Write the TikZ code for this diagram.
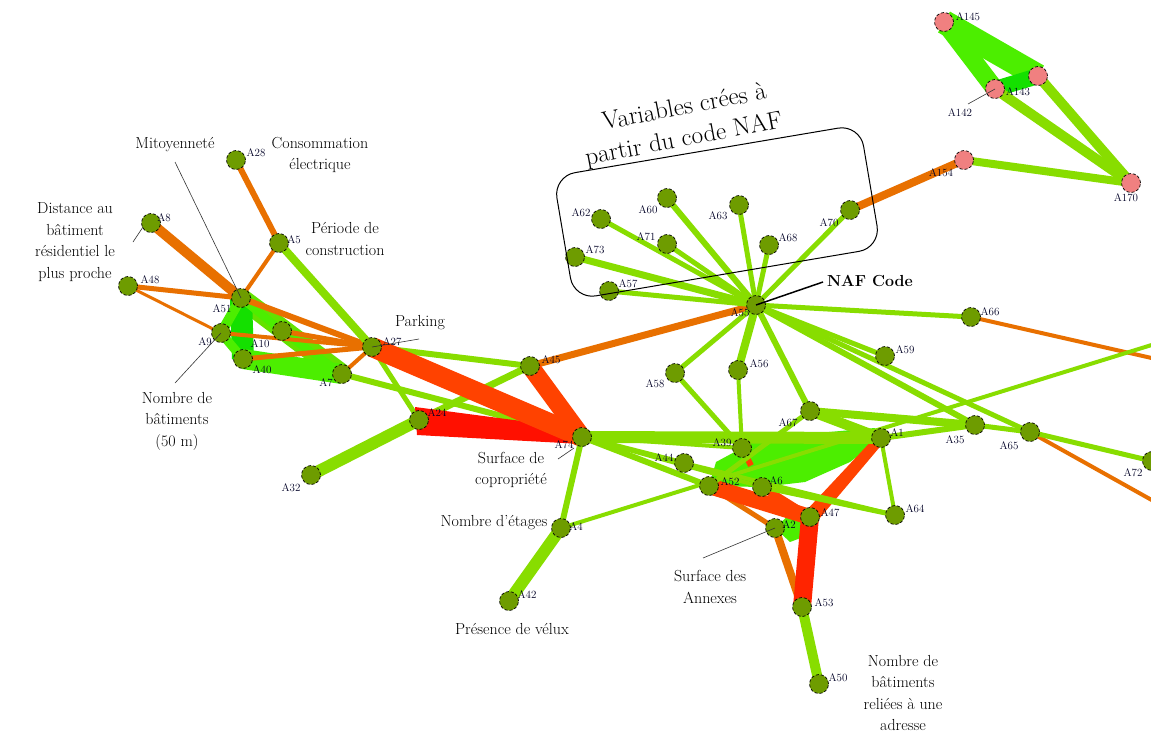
\documentclass[tikz,border=0pt]{standalone}
\usetikzlibrary{backgrounds,calc}
\definecolor{og}{RGB}{232,112,0}
\definecolor{orr}{RGB}{255,66,0}
\definecolor{rd}{RGB}{255,16,0}
\definecolor{lg}{RGB}{136,221,0}
\definecolor{bg}{RGB}{76,238,0}
\definecolor{dg}{RGB}{20,224,0}
\definecolor{mg}{RGB}{100,226,0}
\definecolor{ngreen}{RGB}{110,156,0}
\definecolor{npink}{RGB}{240,128,128}
\tikzset{
  nd/.style={circle, draw=black, densely dashed, line width=0.7pt, fill=ngreen, minimum size=19pt, inner sep=0pt},
  pk/.style={nd, fill=npink},
  lab/.style={font=\fontsize{11}{11}\selectfont, inner sep=0pt, text=black!85!blue},
  ann/.style={font=\fontsize{16}{21.5}\selectfont, align=center, inner sep=0pt},
  ttl/.style={font=\fontsize{25}{30}\selectfont, inner sep=0pt, rotate=10.8},
  ptr/.style={draw=black!80, line width=0.6pt},
  eg/.style={draw=lg, line width=#1},
  eo/.style={draw=og, line width=#1},
  er/.style={draw=orr, line width=#1},
  eb/.style={draw=bg, line width=#1}
}
\begin{document}
\begin{tikzpicture}[x=1pt,y=-1pt]
\useasboundingbox (0,0) rectangle (1151,734);
\clip (0,0) rectangle (1151,734);

% ---------------- nodes ----------------
\node[nd] (A28) at (236,160) {};
\node[nd] (A8) at (151,223) {};
\node[nd] (A48) at (128,286) {};
\node[nd] (A5) at (279,243) {};
\node[nd] (A51) at (241,298) {};
\node[nd] (A9) at (221,333) {};
\node[nd] (A10) at (282,331) {};
\node[nd] (A40) at (243,359) {};
\node[nd] (A7) at (342,374) {};
\node[nd] (A27) at (372,347) {};
\node[nd] (A24) at (419,420) {};
\node[nd] (A32) at (311,475) {};
\node[nd] (A45) at (530,366) {};
\node[nd] (A74) at (582,437) {};
\node[nd] (A4) at (561,528) {};
\node[nd] (A42) at (509,601) {};
\node[nd] (A55) at (756,305) {};
\node[nd] (A62) at (601,219) {};
\node[nd] (A60) at (667,198) {};
\node[nd] (A71) at (667,244) {};
\node[nd] (A63) at (739,205) {};
\node[nd] (A68) at (769,245) {};
\node[nd] (A70) at (850,210) {};
\node[nd] (A73) at (575,257) {};
\node[nd] (A57) at (609,291) {};
\node[nd] (A66) at (971,317) {};
\node[nd] (A59) at (885,356) {};
\node[nd] (A58) at (675,373) {};
\node[nd] (A56) at (738,370) {};
\node[nd] (A67) at (810,411) {};
\node[nd] (A1) at (881,438) {};
\node[nd] (A35) at (975,425) {};
\node[nd] (A65) at (1030,432) {};
\node[nd] (A72) at (1152,461) {};
\node[nd] (A39) at (742,448) {};
\node[nd] (A44) at (684,463) {};
\node[nd] (A52) at (709,486) {};
\node[nd] (A6) at (762,487) {};
\node[nd] (A47) at (810,517) {};
\node[nd] (A2) at (775,528) {};
\node[nd] (A64) at (895,515) {};
\node[nd] (A53) at (802,607) {};
\node[nd] (A50) at (819,684) {};
\node[pk] (A145) at (944,22) {};
\node[pk] (P143) at (1038,76) {};
\node[pk] (A142) at (995,89) {};
\node[pk] (A154) at (964,160) {};
\node[pk] (A170) at (1131,183) {};

\coordinate (offA) at (1200,369);
\coordinate (offB) at (1200,527);
\coordinate (offC) at (1200,330);

% ---------------- edges ----------------
\begin{scope}[on background layer]
\fill[white] (0,0) rectangle (1151,734);
% bright green areas
\fill[bg] (A52.center) -- (716,462) -- (A39.center) -- (760,438) -- (875,428) -- (A1.center) -- (850,462) -- (805,482) -- (A6.center) -- cycle;
\fill[bg] (A2.center) -- (792,512) -- (A47.center) -- (806,536) -- (790,542) -- cycle;
\draw[eb=20, draw=mg] (A51.center) -- (A7.center);
\draw[eb=22, draw=dg] (A51.center) -- (A40.center);
\draw[eb=10] (A9.center) -- (A51.center);
\draw[eb=9] (A9.center) -- (A40.center);
\draw[eb=20] (A40.center) -- (A7.center);
\draw[eb=8] (A10.center) -- (A7.center);
\draw[eb=8] (A51.center) -- (A10.center);
\draw[eb=24] (A145.center) -- (P143.center);
\draw[eb=18] (A145.center) -- (A142.center);
\draw[eb=16, draw=dg] (A142.center) -- (P143.center);

% orange
\draw[eo=6] (A28.center) -- (A5.center);
\draw[eo=4] (A5.center) -- (A51.center);
\draw[eo=10] (A8.center) -- (A51.center);
\draw[eo=5] (A48.center) -- (A51.center);
\draw[eo=3] (A48.center) -- (A9.center);
\draw[eo=6] (A51.center) -- (A27.center);
\draw[eo=5] (A10.center) -- (A27.center);
\draw[eo=4] (A9.center) -- (A27.center);
\draw[eo=5] (A40.center) -- (A27.center);
\draw[eo=4] (A7.center) -- (A27.center);
\draw[eo=7] (A45.center) -- (A55.center);
\draw[eo=8] (A70.center) -- (A154.center);
\draw[eo=4] (A66.center) -- (offA);
\draw[eo=4] (A65.center) -- (offB);
\draw[eo=5] (A52.center) -- (A2.center);
\draw[eo=8] (A2.center) -- (A53.center);

% light green (under red)
\draw[eg=8] (A5.center) -- (A27.center);
\draw[eg=5] (A27.center) -- (A24.center);
\draw[eg=6] (A27.center) -- (A45.center);
\draw[eg=6] (A7.center) -- (A74.center);
\draw[eg=7] (A24.center) -- (A45.center);
\draw[eg=12] (A32.center) -- (A24.center);

% red / orange-red
\fill[rd] ($(A24.center)+(-4,-13)$) -- ($(A24.center)+(-2,15)$) -- ($(A74.center)+(0,7)$) -- ($(A74.center)+(0,-8)$) -- cycle;
\draw[er=20] (A27.center) -- (A74.center);
\draw[er=18] (A45.center) -- (A74.center);
\draw[er=16] (A52.center) -- (A47.center);
\draw[er=8] (A6.center) -- (A47.center);
\fill[orr] ($(A1.center)+(-4,-3)$) -- ($(A1.center)+(3,4)$) -- ($(A47.center)+(9,2)$) -- ($(A47.center)+(-8,-2)$) -- cycle;
\draw[er=18, draw=rd!60!orr] (A47.center) -- (A53.center);
\draw[er=6] (A39.center) -- ($(A39.center)!0.45!(A6.center)$);

% light green
\draw[eg=12] (A74.center) -- (A1.center);
\draw[eg=6] (A74.center) -- (A52.center);
\draw[eg=5] (A74.center) -- (A44.center);
\draw[eg=4] (A74.center) -- (A39.center);
\draw[eg=4] (A44.center) -- (A64.center);
\draw[eg=4] (A74.center) -- (A6.center);
\draw[eg=5] (A6.center) -- (A64.center);
\draw[eg=6] (A74.center) -- (A4.center);
\draw[eg=12] (A4.center) -- (A42.center);
\draw[eg=4] (A4.center) -- (offC);
\draw[eg=4] (A1.center) -- (A64.center);
\draw[eg=10] (A67.center) -- (A1.center);
\draw[eg=8] (A67.center) -- (A35.center);
\draw[eg=6] (A1.center) -- (A35.center);
\draw[eg=5] (A67.center) -- (A52.center);
\draw[eg=5] (A55.center) -- (A62.center);
\draw[eg=6] (A55.center) -- (A60.center);
\draw[eg=5] (A55.center) -- (A71.center);
\draw[eg=5] (A55.center) -- (A63.center);
\draw[eg=5] (A55.center) -- (A68.center);
\draw[eg=5] (A55.center) -- (A70.center);
\draw[eg=7] (A55.center) -- (A73.center);
\draw[eg=5] (A55.center) -- (A57.center);
\draw[eg=5] (A55.center) -- (A58.center);
\draw[eg=8] (A55.center) -- (A56.center);
\draw[eg=6] (A55.center) -- (A67.center);
\draw[eg=5] (A55.center) -- (A59.center);
\draw[eg=5] (A55.center) -- (A66.center);
\draw[eg=6] (A55.center) -- (A35.center);
\draw[eg=5] (A55.center) -- (A65.center);
\draw[eg=5] (A58.center) -- (A39.center);
\draw[eg=4] (A56.center) -- (A39.center);
\draw[eg=5] (A35.center) -- (A65.center);
\draw[eg=5] (A65.center) -- (A72.center);
\draw[eg=10] (A53.center) -- (A50.center);
\draw[eg=8] (A154.center) -- (A170.center);
\draw[eg=10] (P143.center) -- (A170.center);
\draw[eg=10] (A142.center) -- (A170.center);
\end{scope}

% ---------------- node labels ----------------
\node[lab] at (256,153) {A28};
\node[lab] at (164,218) {A8};
\node[lab] at (150,280) {A48};
\node[lab] at (294,240) {A5};
\node[lab] at (222,309) {A51};
\node[lab] at (205,342) {A9};
\node[lab] at (260,344) {A10};
\node[lab] at (262,370) {A40};
\node[lab] at (326,383) {A7};
\node[lab] at (392,342) {A27};
\node[lab] at (437,413) {A24};
\node[lab] at (291,488) {A32};
\node[lab] at (551,360) {A45};
\node[lab] at (564,445) {A74};
\node[lab] at (576,527) {A4};
\node[lab] at (527,595) {A42};
\node[lab] at (740,313) {A55};
\node[lab] at (581,213) {A62};
\node[lab] at (648,210) {A60};
\node[lab] at (646,237) {A71};
\node[lab] at (718,216) {A63};
\node[lab] at (788,238) {A68};
\node[lab] at (829,223) {A70};
\node[lab] at (595,250) {A73};
\node[lab] at (628,284) {A57};
\node[lab] at (990,312) {A66};
\node[lab] at (905,350) {A59};
\node[lab] at (655,384) {A58};
\node[lab] at (759,364) {A56};
\node[lab] at (788,423) {A67};
\node[lab] at (897,433) {A1};
\node[lab] at (955,440) {A35};
\node[lab] at (1009,446) {A65};
\node[lab] at (1133,473) {A72};
\node[lab] at (722,443) {A39};
\node[lab] at (664,458) {A44};
\node[lab] at (730,482) {A52};
\node[lab] at (776,481) {A6};
\node[lab] at (830,513) {A47};
\node[lab] at (789,525) {A2};
\node[lab] at (915,509) {A64};
\node[lab] at (824,603) {A53};
\node[lab] at (838,678) {A50};
\node[lab] at (968,17) {A145};
\node[lab] at (1018,92) {A143};
\node[lab] at (960,113) {A142};
\node[lab] at (941,173) {A154};
\node[lab] at (1126,198) {A170};

% ---------------- annotations ----------------
\node[ann] (tMit) at (175,145) {Mitoyennet\'e};
\node[ann] (tCons) at (320,155) {Consommation\\\'electrique};
\node[ann] (tDist) at (75,242) {Distance au\\b\^atiment\\r\'esidentiel le\\plus proche};
\node[ann] (tPer) at (345,239) {P\'eriode de\\construction};
\node[ann] (tPark) at (420,323) {Parking};
\node[ann] (tNb) at (177,421) {Nombre de\\b\^atiments\\(50 m)};
\node[ann] (tCop) at (511,470) {Surface de\\copropri\'et\'e};
\node[ann] (tEt) at (494,523) {Nombre d’\'etages};
\node[ann] (tVel) at (512,629) {Pr\'esence de v\'elux};
\node[ann] (tAnn) at (710,587) {Surface des\\Annexes};
\node[ann, font=\fontsize{16}{21.5}\selectfont\bfseries] (tNaf) at (870,281) {NAF Code};
\node[ann] (tAdr) at (903,693) {Nombre de\\b\^atiments\\reli\'ees \`a une\\adresse};
\node[ttl] (tVar1) at (684,106) {Variables cr\'ees \`a};
\node[ttl] (tVar2) at (684,140) {partir du code NAF};
\node[draw=black, line width=1pt, rounded corners=22pt, minimum width=311pt, minimum height=125pt, rotate=9.6] (box) at (717,212) {};

\coordinate (pMit) at (175,162);
\coordinate (pDist1) at (133,242);
\coordinate (pDist2) at (143,227);
\coordinate (pPark) at (419,339);
\coordinate (pNb) at (175,383);
\coordinate (pCop1) at (558,459);
\coordinate (pCop2) at (574,448);
\coordinate (pAnn) at (703,558);
\coordinate (pNaf) at (823,282);
\coordinate (pA142) at (968,104);

\draw[ptr] (pMit) -- (A51.center);
\draw[ptr] (pDist1) -- (pDist2);
\draw[ptr] (A27.center) -- (pPark);
\draw[ptr] (pNb) -- (A9.center);
\draw[ptr] (pCop1) -- (pCop2);
\draw[ptr] (pAnn) -- (A2.center);
\draw[ptr, line width=1.5pt, draw=black] (pNaf) -- (A55.center);
\draw[ptr] (pA142) -- (A142.center);
\end{tikzpicture}
\end{document}
